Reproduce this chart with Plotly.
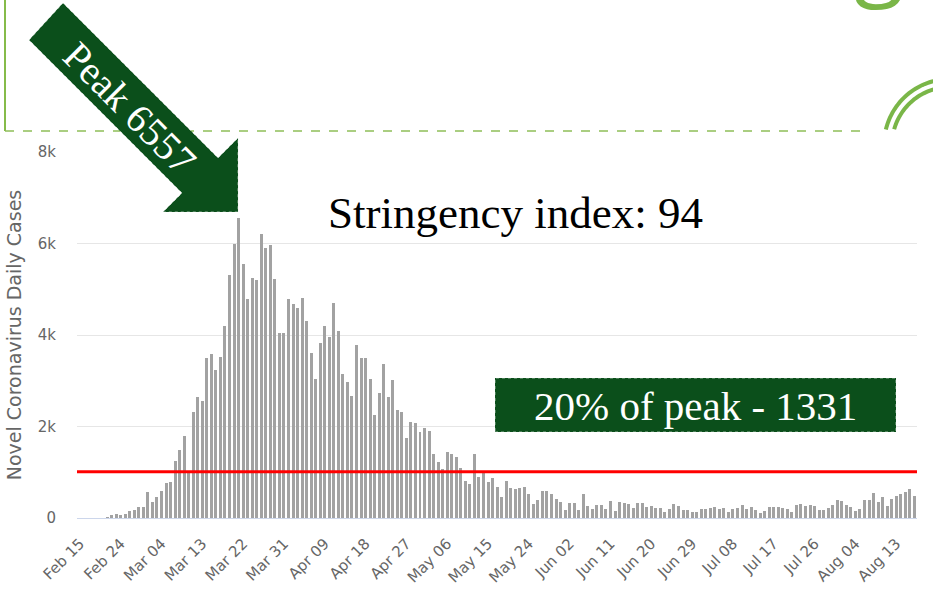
import math

import pandas as pd
import plotly.graph_objects as go

# Daily new cases, 15 Feb - 17 Aug 2020, one list per month
feb_cases = [0, 0, 0, 0, 0, 0, 17, 62, 78, 72, 94, 147, 185, 234, 239]
mar_cases = [566, 342, 466, 587, 769, 778, 1247, 1492, 1797, 977, 2313, 2651, 2547, 3497, 3590, 3233,
             3526, 4207, 5322, 5986, 6557, 5560, 4789, 5249, 5210, 6203, 5909, 5974, 5217, 4050, 4053]
apr_cases = [4782, 4668, 4585, 4805, 4316, 3599, 3039, 3836, 4204, 3951, 4694, 4092, 3153, 2972, 2667,
             3786, 3493, 3491, 3047, 2256, 2729, 3370, 2646, 3021, 2357, 2324, 1739, 2091, 2086, 1872]
may_cases = [1965, 1900, 1389, 1221, 1075, 1444, 1401, 1327, 1083, 802, 744, 1402, 888, 992, 789, 875,
             675, 451, 813, 665, 642, 652, 669, 531, 300, 397, 584, 593, 516, 416, 355]
jun_cases = [178, 318, 321, 177, 518, 270, 197, 280, 283, 202, 379, 163, 346, 338, 301, 210, 329, 333,
             251, 262, 224, 218, 122, 190, 296, 259, 175, 174, 126, 142]
jul_cases = [187, 201, 223, 235, 192, 208, 138, 193, 229, 276, 188, 234, 169, 114, 163, 230, 233, 249,
             219, 190, 129, 282, 306, 252, 275, 255, 170, 181, 212, 289, 386]
aug_cases = [379, 295, 239, 159, 190, 384, 402, 552, 347, 463, 259, 412, 481, 523, 574, 629, 479]

daily_cases = feb_cases + mar_cases + apr_cases + may_cases + jun_cases + jul_cases + aug_cases
dates = pd.date_range("2020-02-15", periods=len(daily_cases), freq="D")
tick_dates = pd.date_range("2020-02-15", "2020-08-17", freq="9D")
y_ticks = [0, 2000, 4000, 6000, 8000]
y_tick_labels = ["0", "2k", "4k", "6k", "8k"]
threshold = 1010

W, H = 933, 606
L, R, T, B = 77, 16, 152, 88
PW, PH = W - L - R, H - T - B
GREEN = "#0b4f1b"
LIGHT = "#86bb4a"


def px(x):
    return (x - L) / PW


def py(y):
    return (H - B - y) / PH


def path(points, close=True):
    s = "M " + " L ".join(f"{px(x):.4f},{py(y):.4f}" for x, y in points)
    return s + (" Z" if close else "")


def label(x, y, text, size, color, angle=0, family="Liberation Serif", yanchor="middle"):
    fig.add_annotation(x=px(x), y=py(y), xref="paper", yref="paper", text=text, textangle=angle,
                       xanchor="center", yanchor=yanchor, showarrow=False,
                       font=dict(family=family, size=size, color=color))


fig = go.Figure()
fig.add_trace(go.Bar(x=dates, y=daily_cases, marker_color="#a2a2a2", marker_line_width=0,
                     width=0.66 * 86400000, hoverinfo="x+y"))

fig.add_hline(y=threshold, line_color="#ff0000", line_width=3)

shapes = []
# slide decoration
shapes.append(dict(type="line", xref="paper", yref="paper", x0=px(5), x1=px(5), y0=py(0), y1=py(131),
                   line=dict(color=LIGHT, width=2)))
shapes.append(dict(type="line", xref="paper", yref="paper", x0=px(5), x1=px(869), y0=py(131), y1=py(131),
                   line=dict(color="#8fbe58", width=1.5, dash="dash")))
for r in (66, 58):
    pts = []
    for i in range(41):
        a = math.radians(180 + 90 * i / 40)
        x, y = 950 + r * math.cos(a), 145 + r * math.sin(a)
        if y <= 131:
            pts.append((x, y))
    shapes.append(dict(type="path", xref="paper", yref="paper", path=path(pts, close=False),
                       line=dict(color="#7ab648", width=4)))

# peak arrow
arrow = [(29, 40), (63, 3), (218, 158), (238, 138), (238, 212), (163, 212), (182, 193)]
shapes.append(dict(type="path", xref="paper", yref="paper", path=path(arrow), fillcolor=GREEN,
                   line=dict(color="rgba(255,255,255,0.55)", width=1, dash="dot")))
# 20% box
shapes.append(dict(type="rect", xref="paper", yref="paper", x0=px(495), x1=px(896), y0=py(432), y1=py(378),
                   fillcolor=GREEN, line=dict(color="rgba(255,255,255,0.55)", width=1, dash="dot")))
fig.update_layout(shapes=list(fig.layout.shapes) + shapes)

label(130, 108, "Peak 6557", 40, "white", angle=45)
label(515, 213, "Stringency index: 94", 45, "black")
label(695, 406, "20% of peak - 1331", 41, "white")
label(879, 17, "g", 92, "#7ab648", family="Open Sans", yanchor="bottom")

fig.update_layout(
    width=W, height=H, margin=dict(l=L, r=R, t=T, b=B),
    plot_bgcolor="white", paper_bgcolor="white", showlegend=False, bargap=0,
    font=dict(family="DejaVu Sans", color="#666666"),
)
fig.update_xaxes(
    type="date", range=["2020-02-14 09:00", "2020-08-17 14:00"], tickvals=tick_dates,
    tickformat="%b %d", tickangle=-45, tickfont=dict(size=15, color="#666666"),
    ticks="outside", ticklen=10, tickcolor="rgba(0,0,0,0)",
    showgrid=False, showline=True, linecolor="#ccd6eb", linewidth=1, zeroline=False,
)
fig.update_yaxes(
    range=[0, 8000], tickvals=y_ticks, ticktext=y_tick_labels, tickfont=dict(size=15, color="#666666"),
    showgrid=True, gridcolor="#e6e6e6", gridwidth=1, zeroline=False, ticklabelstandoff=20,
    title=dict(text="Novel Coronavirus Daily Cases", font=dict(size=19, color="#666666"), standoff=11),
)

fig.write_html("out.html", config={"displayModeBar": False},
               post_script="document.body.style.margin='0';")
